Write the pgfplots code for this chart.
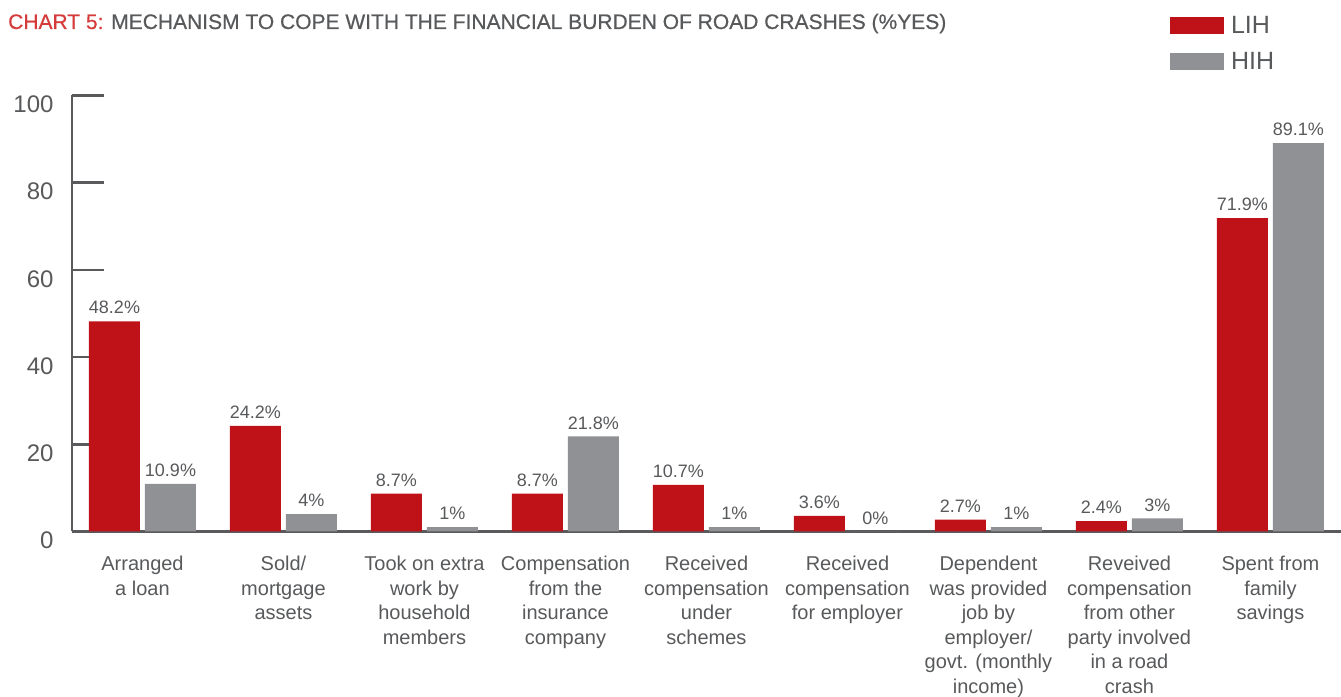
\documentclass[border=0pt]{standalone}
\usepackage{fontspec}
\setmainfont{Liberation Sans}
\usepackage{pgfplots}
\pgfplotsset{compat=1.18}
\definecolor{lihred}{HTML}{BE1118}
\definecolor{hihgray}{HTML}{909195}
\definecolor{txtgray}{HTML}{58595B}
\definecolor{titlered}{HTML}{D63B3B}
\definecolor{axgray}{HTML}{5A5A5C}
\begin{document}
\begin{tikzpicture}
\path[use as bounding box] (0pt,0pt) rectangle (1341pt,696pt);
\node[anchor=base west, inner sep=0pt, font=\fontsize{21}{24}\selectfont\addfontfeatures{FakeBold=0.6}] at (8pt,667pt) {\textcolor{titlered}{CHART 5:} \textcolor{txtgray}{MECHANISM TO COPE WITH THE FINANCIAL BURDEN OF ROAD CRASHES (\%YES)}};
\begin{axis}[
  at={(72pt,164.5pt)}, anchor=south west,
  scale only axis, width=1269pt, height=436pt,
  ybar=5pt, bar width=51pt,
  xmin=-0.5, xmax=8.5, ymin=0, ymax=100,
  axis x line*=bottom, axis y line*=left,
  axis line style={axgray, line width=2.6pt},
  x axis line style={-}, y axis line style={-},
  tick align=inside,
  /pgf/number format/assume math mode=true,
  ytick={0,20,...,100},
  ytick style={axgray, line width=2.6pt, /pgfplots/major tick length=32pt},
  yticklabel style={font=\fontsize{24}{24}\selectfont, text=txtgray, yshift=-9pt, xshift=-15pt},
  xtick={0,...,8},
  xtick style={draw=none},
  minor xtick={0.5,1.5,...,7.5},
  minor x tick style={axgray, line width=2.6pt},
  minor tick length=10pt,
  xticklabel style={font=\fontsize{20}{24.5}\selectfont, text=txtgray, align=center, anchor=north, yshift=-21pt},
  xticklabels={{Arranged\\a loan},{Sold/\\mortgage\\assets},{Took on extra\\work by\\household\\members},{Compensation\\from the\\insurance\\company},{Received\\compensation\\under\\schemes},{Received\\compensation\\for employer},{Dependent\\was provided\\job by\\employer/\\govt. (monthly\\income)},{Reveived\\compensation\\from other\\party involved\\in a road\\crash},{Spent from\\family\\savings}},
  nodes near coords,
  point meta=explicit symbolic,
  every node near coord/.append style={font=\fontsize{18}{18}\selectfont, text=txtgray, inner sep=2pt, yshift=5pt},
  legend image code/.code={\fill[#1] (0pt,-8.5pt) rectangle (54pt,8.5pt);},
  legend style={at={(rel axis cs:0.8652,1.182)}, anchor=north west, draw=none, fill=none, inner sep=0pt,
    font=\fontsize{25}{25}\selectfont, text=txtgray, row sep=17pt,
    nodes={inner sep=0pt, anchor=west}},
  legend cell align=left,
  clip=false,
]
\addplot[fill=lihred, draw=none] coordinates {
(0,48.2) [48.2\%] (1,24.2) [24.2\%] (2,8.7) [8.7\%] (3,8.7) [8.7\%] (4,10.7) [10.7\%]
(5,3.6) [3.6\%] (6,2.7) [2.7\%] (7,2.4) [2.4\%] (8,71.9) [71.9\%]};
\addplot[fill=hihgray, draw=none] coordinates {
(0,10.9) [10.9\%] (1,4) [4\%] (2,1) [1\%] (3,21.8) [21.8\%] (4,1) [1\%]
(5,0) [0\%] (6,1) [1\%] (7,3) [3\%] (8,89.1) [89.1\%]};
\legend{\;LIH,\;HIH}
\end{axis}
\end{tikzpicture}
\end{document}
